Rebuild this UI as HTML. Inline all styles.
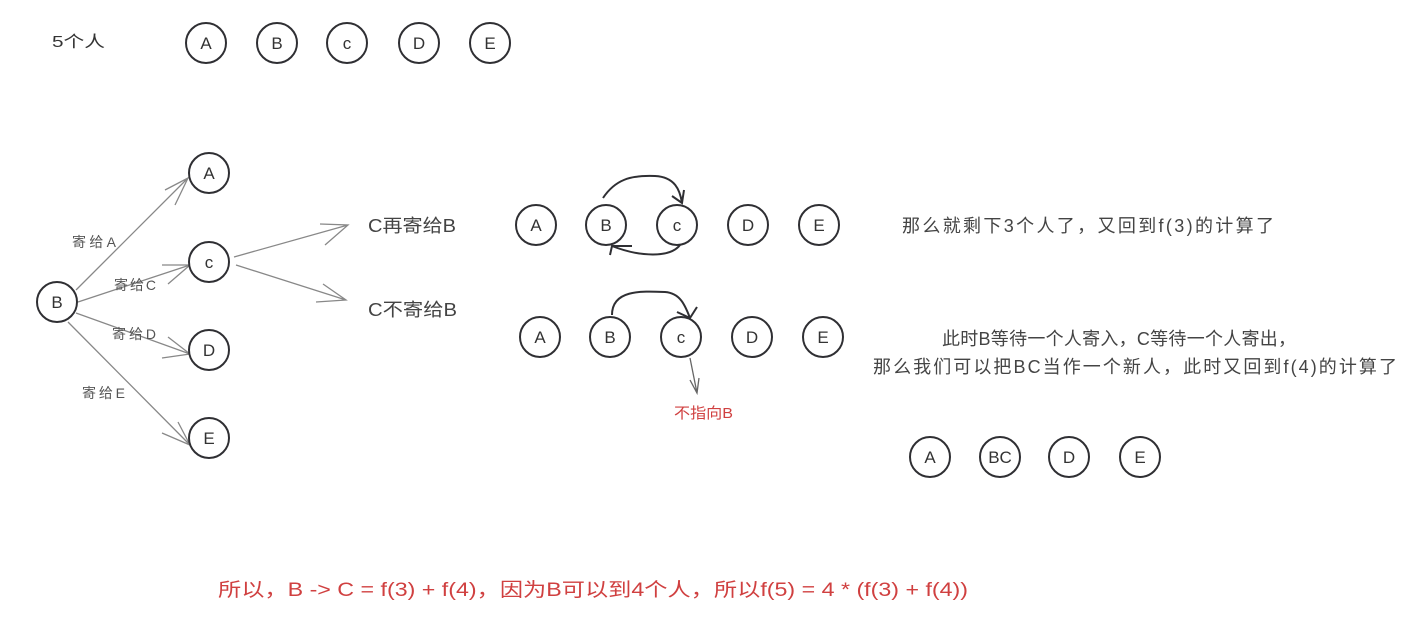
<!DOCTYPE html>
<html><head><meta charset="utf-8"><style>
body{margin:0;background:#fff;width:1418px;height:625px;overflow:hidden}
svg text{font-family:"Liberation Sans","Noto Sans CJK SC",sans-serif}
</style></head><body>
<svg width="1418" height="625" xmlns="http://www.w3.org/2000/svg">
<text x="52" y="47" font-size="16" fill="#333" textLength="53" lengthAdjust="spacingAndGlyphs">5个人</text>
<g stroke="#2f2f33" stroke-width="2" fill="#fff">
<circle cx="206" cy="43" r="20"/><circle cx="277" cy="43" r="20"/><circle cx="347" cy="43" r="20"/><circle cx="419" cy="43" r="20"/><circle cx="490" cy="43" r="20"/>
</g>
<g stroke="#888" stroke-width="1.3" fill="none">
<path d="M76 290 L188 178 M165 190 L188 178 L175 205"/>
<path d="M78 302 L190 265 M162 265 L190 265 L168 284"/>
<path d="M76 313 L190 354 M168 337 L190 354 M162 358 L190 354"/>
<path d="M68 322 L190 445 M162 433 L190 445 L178 422"/>
<path d="M234 257 L348 225 M320 224 L348 225 L325 245"/>
<path d="M236 265 L346 300 M323 284 L346 300 L316 302"/>
</g>
<g stroke="#2f2f33" stroke-width="2" fill="#fff">
<circle cx="209" cy="173" r="20"/><circle cx="209" cy="262" r="20"/><circle cx="57" cy="302" r="20"/><circle cx="209" cy="350" r="20"/><circle cx="209" cy="438" r="20"/>
</g>
<g font-size="14" fill="#555" lengthAdjust="spacingAndGlyphs">
<text x="72" y="247" textLength="44">寄给A</text><text x="114" y="290" textLength="42">寄给C</text><text x="112" y="339" textLength="44">寄给D</text><text x="82" y="398" textLength="43">寄给E</text>
</g>
<g font-size="18" fill="#444">
<text x="368" y="232" textLength="88" lengthAdjust="spacingAndGlyphs">C再寄给B</text><text x="368" y="316" textLength="89" lengthAdjust="spacingAndGlyphs">C不寄给B</text>
</g>
<g stroke="#2f2f33" stroke-width="2" fill="#fff">
<circle cx="536" cy="225" r="20"/><circle cx="606" cy="225" r="20"/><circle cx="677" cy="225" r="20"/><circle cx="748" cy="225" r="20"/><circle cx="819" cy="225" r="20"/>
<circle cx="540" cy="337" r="20"/><circle cx="610" cy="337" r="20"/><circle cx="681" cy="337" r="20"/><circle cx="752" cy="337" r="20"/><circle cx="823" cy="337" r="20"/>
<circle cx="930" cy="457" r="20"/><circle cx="1000" cy="457" r="20"/><circle cx="1069" cy="457" r="20"/><circle cx="1140" cy="457" r="20"/>
</g>
<g stroke="#2f2f33" stroke-width="2" fill="none">
<path d="M603 198 C615 180 630 175 655 176 C675 177 680 190 682 203 M672 196 L682 203 L684 190"/>
<path d="M680 245 C670 258 640 257 612 246 M632 246 L612 246 L610 255"/>
<path d="M612 315 C612 290 640 291 665 292 C680 293 685 305 690 318 M677 312 L690 318 L697 307"/>
</g>
<path d="M690 358 L697 393 M690 380 L697 393 L699 378" stroke="#666" stroke-width="1.3" fill="none"/>
<text x="674" y="418" font-size="15" fill="#d04040" textLength="59" lengthAdjust="spacingAndGlyphs">不指向B</text>
<g font-size="17" fill="#333" text-anchor="middle">
<text x="206" y="49">A</text><text x="277" y="49">B</text><text x="347" y="49">c</text><text x="419" y="49">D</text><text x="490" y="49">E</text>
<text x="209" y="179">A</text><text x="209" y="268">c</text><text x="57" y="308">B</text><text x="209" y="356">D</text><text x="209" y="444">E</text>
<text x="536" y="231">A</text><text x="606" y="231">B</text><text x="677" y="231">c</text><text x="748" y="231">D</text><text x="819" y="231">E</text>
<text x="540" y="343">A</text><text x="610" y="343">B</text><text x="681" y="343">c</text><text x="752" y="343">D</text><text x="823" y="343">E</text>
<text x="930" y="463">A</text><text x="1000" y="463">BC</text><text x="1069" y="463">D</text><text x="1140" y="463">E</text>
</g>
<g font-size="18" fill="#444" lengthAdjust="spacingAndGlyphs">
<text x="902" y="232" textLength="372">那么就剩下3个人了，又回到f(3)的计算了</text>
<text x="942" y="345" textLength="354">此时B等待一个人寄入，C等待一个人寄出，</text>
<text x="873" y="373" textLength="524">那么我们可以把BC当作一个新人，此时又回到f(4)的计算了</text>
</g>
<text x="218" y="596" font-size="19" fill="#d04040" textLength="750" lengthAdjust="spacingAndGlyphs">所以，B -&gt; C = f(3) + f(4)，因为B可以到4个人，所以f(5) = 4 * (f(3) + f(4))</text>
</svg>
</body></html>
